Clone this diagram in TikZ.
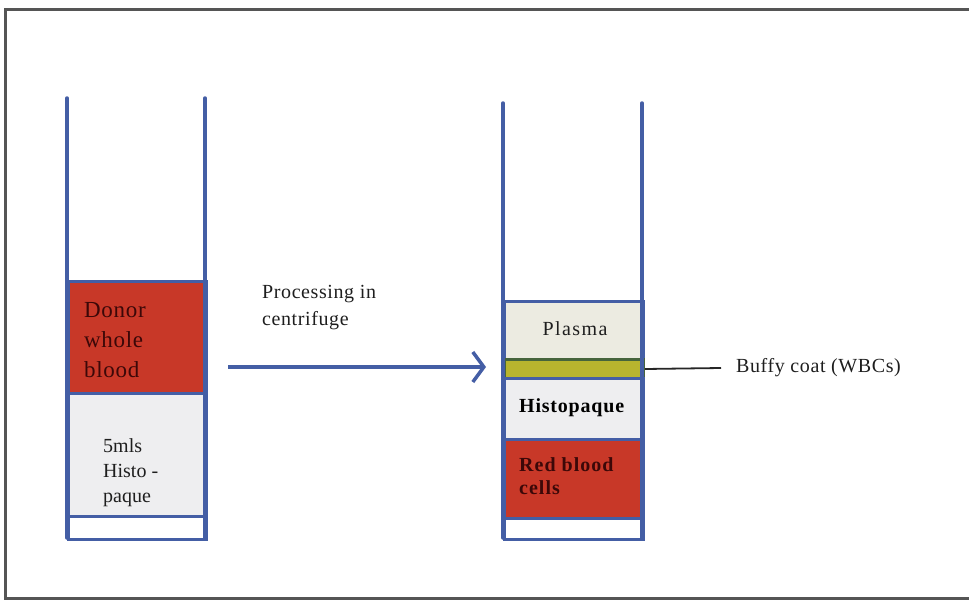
\documentclass[tikz,border=0pt]{standalone}
\usepackage{fontspec}
\setmainfont{Liberation Serif}
\usetikzlibrary{arrows.meta}
\definecolor{tubeblue}{RGB}{68,94,165}
\definecolor{bloodred}{RGB}{200,56,40}
\definecolor{histogrey}{RGB}{238,238,240}
\definecolor{plasmafill}{RGB}{236,235,225}
\definecolor{buffyfill}{RGB}{184,180,46}
\definecolor{buffyedge}{RGB}{70,100,60}
\definecolor{framegrey}{RGB}{85,85,85}
\definecolor{txtdark}{RGB}{30,30,30}
\definecolor{txtred}{RGB}{60,8,8}
\tikzset{
  layer/.style={draw=tubeblue, line width=3pt, inner sep=0pt, anchor=north west},
  wall/.style={draw=tubeblue, line width=3.5pt, line cap=round},
  lbl/.style={inner sep=0pt, anchor=west, align=left, text=txtdark},
}
\begin{document}
\begin{tikzpicture}[x=1pt,y=-1pt]
\useasboundingbox (0,0) rectangle (969,602);
% frame
\draw[framegrey, line width=3pt] (970,10) -- (5,10) -- (5,598) -- (970,598);
% left tube
\node[layer, fill=bloodred, minimum width=138pt, minimum height=112pt] (donor) at (67,280) {};
\node[layer, fill=histogrey, minimum width=138pt, minimum height=123pt] (histoA) at (67,392) {};
\node[layer, fill=white, minimum width=138pt, minimum height=23pt] (baseA) at (67,515) {};
\draw[wall] (67,98) -- (67,538);
\draw[wall] (205,98) -- (205,538);
\node[lbl, text=txtred, font=\fontsize{23}{30}\selectfont\addfontfeature{LetterSpace=3}] (donortxt) at (84,340) {Donor\\whole\\blood};
\node[lbl, font=\fontsize{20}{25}\selectfont] (histoAtxt) at (103,473) {5mls\\Histo -\\paque};
% right tube
\node[layer, fill=plasmafill, minimum width=139pt, minimum height=58pt] (plasma) at (503,300) {};
\node[layer, fill=buffyfill, draw=buffyedge, minimum width=139pt, minimum height=19pt] (buffy) at (503,358) {};
\node[layer, fill=histogrey, minimum width=139pt, minimum height=61pt] (histoB) at (503,377) {};
\node[layer, fill=bloodred, minimum width=139pt, minimum height=79pt] (rbc) at (503,438) {};
\node[layer, fill=white, minimum width=139pt, minimum height=21pt] (baseB) at (503,517) {};
\draw[wall] (503,103) -- (503,538);
\draw[wall] (642,103) -- (642,538);
\node[inner sep=0pt, text=txtdark, font=\fontsize{20}{20}\selectfont\addfontfeature{LetterSpace=7}] (plasmatxt) at (575,329) {Plasma};
\node[lbl, font=\bfseries\fontsize{20}{20}\selectfont\addfontfeature{LetterSpace=4}, text=black] (histoBtxt) at (519,408) {Histopaque};
\node[lbl, text=txtred, font=\bfseries\fontsize{20}{23}\selectfont\addfontfeature{LetterSpace=5}] (rbctxt) at (519,476) {Red blood\\cells};
% arrow
\coordinate (arrS) at (228,367);
\coordinate (arrE) at (486,367);
\draw[tubeblue, line width=3.5pt, -{Straight Barb[length=11pt,width=30pt,line width=3.5pt]}] (arrS) -- (arrE);
\node[lbl, font=\fontsize{20}{27}\selectfont\addfontfeature{LetterSpace=3}] (proc) at (262,308) {Processing in\\centrifuge};
% buffy coat label
\node[lbl, font=\fontsize{20}{20}\selectfont\addfontfeature{LetterSpace=3}] (buffytxt) at (736,368) {Buffy coat (WBCs)};
\draw[black!85, line width=1.8pt] (buffy.east) -- ([xshift=-15pt]buffytxt.west);
\end{tikzpicture}
\end{document}
